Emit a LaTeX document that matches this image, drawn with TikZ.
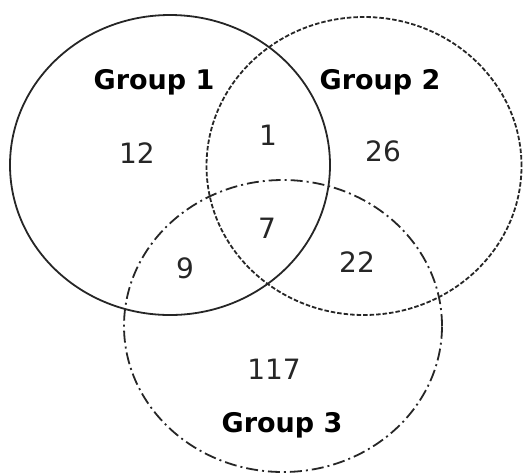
\documentclass[tikz,border=0pt]{standalone}
\usepackage{fontspec}
\setmainfont{DejaVu Sans}
\usetikzlibrary{shapes.geometric}
\begin{document}
\begin{tikzpicture}[x=1pt,y=-1pt,
  setshape/.style={ellipse, draw=black!85, line width=1.8pt, inner sep=0pt},
  grouplabel/.style={font=\fontsize{27}{30}\selectfont\bfseries, text=black},
  countlabel/.style={font=\fontsize{28}{31}\selectfont, text=black!85}]
\useasboundingbox (0,0) rectangle (529,475);
\node[setshape, minimum width=320pt, minimum height=300pt] (g1) at (170,165) {};
\node[setshape, dash pattern=on 4.5pt off 2pt, minimum width=315pt, minimum height=298pt] (g2) at (364,166) {};
\node[setshape, dash pattern=on 12pt off 4pt on 2pt off 4pt, minimum width=318pt, minimum height=292pt] (g3) at (283,326) {};
\node[grouplabel] (t1) at (154,82) {Group 1};
\node[grouplabel] (t2) at (380,82) {Group 2};
\node[grouplabel] (t3) at (282,425) {Group 3};
\node[countlabel] (n12) at (137,153) {12};
\node[countlabel] (n1) at (268,135) {1};
\node[countlabel] (n26) at (383,151) {26};
\node[countlabel] (n7) at (267,228) {7};
\node[countlabel] (n9) at (185,268) {9};
\node[countlabel] (n22) at (357,262) {22};
\node[countlabel] (n117) at (274,369) {117};
\end{tikzpicture}
\end{document}
